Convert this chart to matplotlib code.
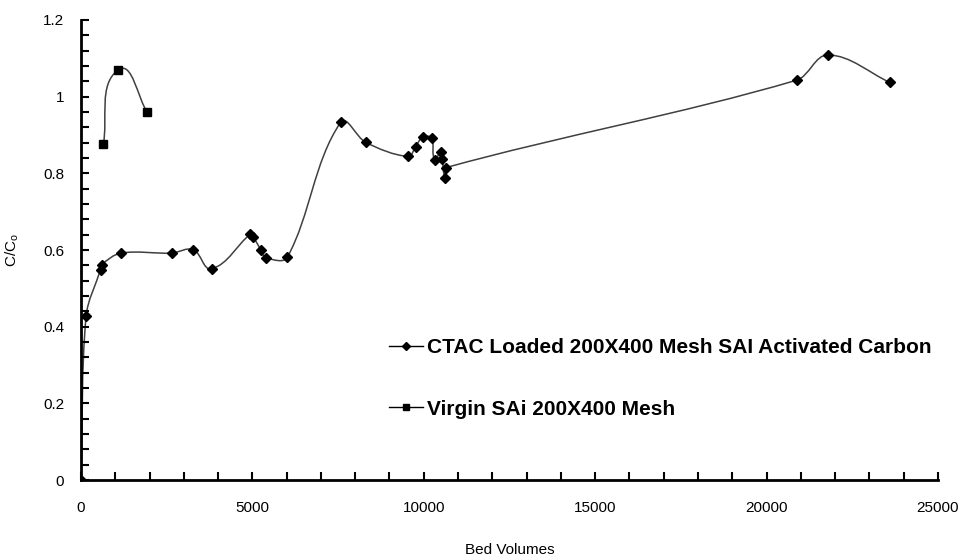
import numpy as np
import matplotlib
matplotlib.use("Agg")
import matplotlib.pyplot as plt
from matplotlib.path import Path
from matplotlib.patches import PathPatch
from matplotlib.lines import Line2D
from matplotlib.ticker import MultipleLocator

plt.rcParams['font.family'] = ['Liberation Sans', 'DejaVu Sans']

# CTAC loaded carbon (diamonds)
ctac_bv = [0, 150, 570, 603, 1167, 2645, 3278, 3812, 4939, 5027, 5241, 5397,
           6019, 7575, 8304, 9548, 9763, 9986, 10230, 10327, 10502, 10540,
           10620, 10650, 20877, 21800, 23600]
ctac_c = [0.0, 0.428, 0.549, 0.562, 0.592, 0.592, 0.601, 0.551, 0.641, 0.634,
          0.601, 0.580, 0.581, 0.933, 0.881, 0.844, 0.870, 0.896, 0.891, 0.835,
          0.856, 0.838, 0.789, 0.815, 1.043, 1.109, 1.037]

# virgin carbon (squares)
virgin_bv = [651, 1089, 1934]
virgin_c = [0.877, 1.070, 0.959]

ctac_label = "CTAC Loaded 200X400 Mesh SAI Activated Carbon"
virgin_label = "Virgin SAi 200X400 Mesh"

XMAX, YMAX = 25000, 1.2


def smooth_path(xs, ys):
    # smoothed line as cubic bezier segments, tangents weighted by chord length
    # (worked out in pixel-like units so both axes count the same)
    sc = np.array([XMAX / 857.0, YMAX / 460.0])
    p = np.column_stack([xs, ys]).astype(float) / sc
    n = len(p)
    tang = []
    for i in range(n):
        a = p[i - 1] if i > 0 else p[i]
        b = p[i + 1] if i < n - 1 else p[i]
        tang.append(b - a)
    verts = [p[0]]
    codes = [Path.MOVETO]
    for i in range(n - 1):
        p1, p2 = p[i], p[i + 1]
        seg = np.hypot(*(p2 - p1))
        l1 = np.hypot(*tang[i]) or 1.0
        l2 = np.hypot(*tang[i + 1]) or 1.0
        c1 = p1 + tang[i] / l1 * seg / 3.0
        c2 = p2 - tang[i + 1] / l2 * seg / 3.0
        verts += [c1, c2, p2]
        codes += [Path.CURVE4] * 3
    return Path(np.array(verts) * sc, codes)


fig = plt.figure(figsize=(9.64, 5.55), dpi=100)
ax = fig.add_axes([0.084, 0.135, 0.889, 0.829])

line_col = '#404040'
for xs, ys in [(ctac_bv, ctac_c), (virgin_bv, virgin_c)]:
    ax.add_patch(PathPatch(smooth_path(xs, ys), facecolor='none',
                           edgecolor=line_col, lw=1.1))

ax.plot(ctac_bv, ctac_c, linestyle='none', marker='D', ms=5, color='black')
ax.plot(virgin_bv, virgin_c, linestyle='none', marker='s', ms=5.5, color='black')

ax.set_xlim(0, XMAX)
ax.set_ylim(0, YMAX)
ax.xaxis.set_major_locator(MultipleLocator(5000))
ax.xaxis.set_minor_locator(MultipleLocator(1000))
ax.yaxis.set_minor_locator(MultipleLocator(0.04))
ax.set_yticks(np.arange(0, 1.21, 0.2))
ax.set_yticklabels(['0', '0.2', '0.4', '0.6', '0.8', '1', '1.2'])

for s in ['top', 'right']:
    ax.spines[s].set_visible(False)
for s in ['left', 'bottom']:
    ax.spines[s].set_linewidth(2)

ax.tick_params(which='both', direction='in', width=1.5, length=6)
ax.tick_params(axis='x', which='major', pad=15, labelsize=11)
ax.tick_params(axis='y', which='major', pad=12, labelsize=11)

ax.set_xlabel('Bed Volumes', fontsize=11, labelpad=20)
ax.set_ylabel('C/C$_\\mathregular{o}$', fontsize=11, labelpad=16)

handles = [Line2D([], [], color='black', lw=1, marker='D', ms=4),
           Line2D([], [], color='black', lw=1, marker='s', ms=4)]
ax.legend(handles, [ctac_label, virgin_label], loc='upper left',
          bbox_to_anchor=(0.338, 0.35), frameon=False,
          prop={'weight': 'bold', 'size': 15}, handlelength=1.6,
          handletextpad=0.2, labelspacing=2.05)

fig.savefig('out.png', dpi=100)
